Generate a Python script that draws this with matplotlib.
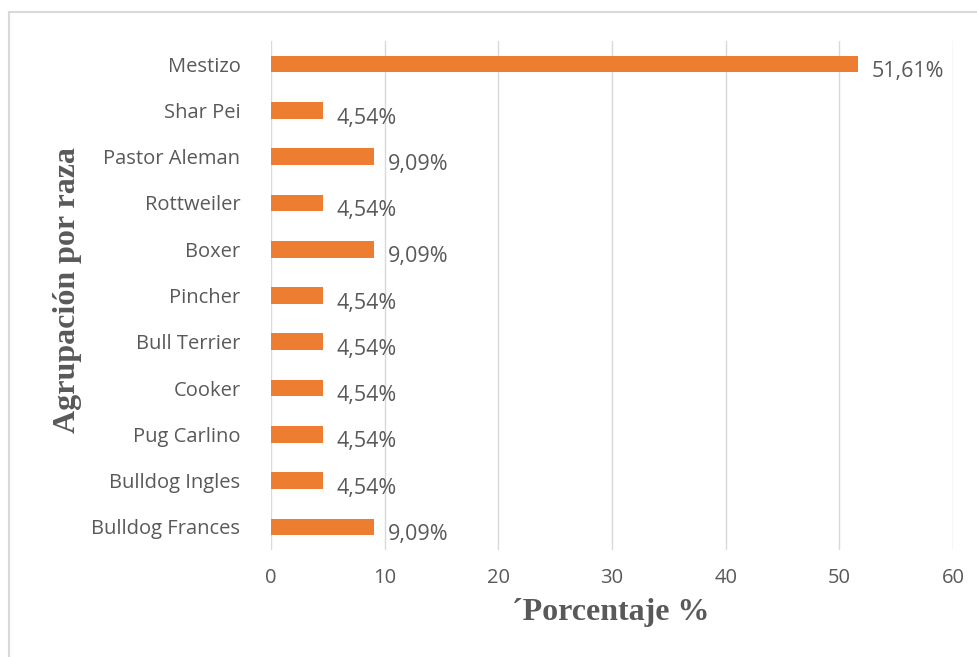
import matplotlib.pyplot as plt
from matplotlib.lines import Line2D

# Breeds from bottom to top, with their share of the sample (%)
breeds = ["Bulldog Frances", "Bulldog Ingles", "Pug Carlino", "Cooker",
          "Bull Terrier", "Pincher", "Boxer", "Rottweiler", "Pastor Aleman",
          "Shar Pei", "Mestizo"]
percent = [9.09, 4.54, 4.54, 4.54, 4.54, 4.54, 9.09, 4.54, 9.09, 4.54, 51.61]
xticks = [0, 10, 20, 30, 40, 50, 60]

bar_color = "#ED7D31"
text_color = "#595959"
grid_color = "#D9D9D9"
font = "Open Sans"

fig = plt.figure(figsize=(9.77, 6.57), dpi=100)
ax = fig.add_axes([0.2774, 0.1629, 0.6980, 0.7747])

ypos = range(len(breeds))
ax.barh(ypos, percent, height=0.36, color=bar_color, zorder=3)

for y, v in zip(ypos, percent):
    label = f"{v:.2f}%".replace(".", ",")
    ax.annotate(label, (v, y), xytext=(10, -5.5), textcoords="offset points",
                ha="left", va="center", fontsize=15.5, color=text_color,
                family=font)

ax.set_xlim(0, 60)
ax.set_ylim(-0.5, len(breeds) - 0.5)
ax.set_xticks(xticks)
ax.set_yticks(list(ypos))
ax.set_yticklabels(breeds)
ax.tick_params(length=0, labelsize=14.5, labelcolor=text_color)
ax.tick_params(axis="y", pad=22)
ax.tick_params(axis="x", pad=13)
for lbl in ax.get_xticklabels() + ax.get_yticklabels():
    lbl.set_family(font)

ax.grid(axis="x", color=grid_color, linewidth=1, zorder=0)
for side in ax.spines.values():
    side.set_visible(False)

fig.text(0.625, 0.068, "´Porcentaje %", ha="center", va="center",
         family="Liberation Serif", fontweight="bold", fontsize=23,
         color=text_color)
fig.text(0.069, 0.558, "Agrupación por raza", rotation=90, ha="center",
         va="center", family="Liberation Serif", fontweight="bold",
         fontsize=23, color=text_color)

# chart frame: only its top and left edges fall inside the image
fig.add_artist(Line2D([0.009, 0.009], [0.0, 0.982], transform=fig.transFigure,
                      color=grid_color, linewidth=1.5))
fig.add_artist(Line2D([0.009, 1.0], [0.982, 0.982], transform=fig.transFigure,
                      color=grid_color, linewidth=1.5))

fig.savefig("out.png", dpi=100)
